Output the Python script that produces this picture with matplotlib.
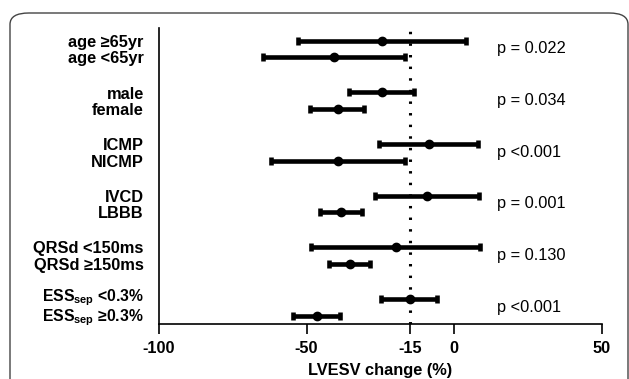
import matplotlib
matplotlib.use("Agg")
import matplotlib.pyplot as plt
from matplotlib.patches import FancyBboxPatch
from matplotlib.transforms import ScaledTranslation
import numpy as np

plt.rcParams['font.family'] = ['Liberation Sans', 'DejaVu Sans']
plt.rcParams['mathtext.fontset'] = 'custom'
plt.rcParams['mathtext.rm'] = 'Liberation Sans:bold'
plt.rcParams['mathtext.bf'] = 'Liberation Sans:bold'
plt.rcParams['mathtext.it'] = 'Liberation Sans:italic'

labels = ["age \u226565yr", "age <65yr", "male", "female", "ICMP", "NICMP",
          "IVCD", "LBBB", "QRSd <150ms", "QRSd \u2265150ms",
          r"ESS$_{\mathregular{sep}}$ <0.3%",
          "ESS$_{\\mathregular{sep}}$ \u22650.3%"]
means = [-24.3, -40.6, -24.5, -39.5, -8.4, -39.2, -9.3, -38.4, -19.8, -35.3, -15.1, -46.5]
lower = [-53.0, -64.6, -35.6, -48.8, -25.3, -62.1, -26.9, -45.4, -48.5, -42.5, -24.8, -54.7]
upper = [4.0, -16.8, -13.6, -30.5, 8.2, -16.8, 8.5, -31.2, 8.8, -28.5, -5.9, -38.6]
pvals = ["p = 0.022", "p = 0.034", "p <0.001", "p = 0.001", "p = 0.130", "p <0.001"]
xticks = [-100, -50, -15, 0, 50]
ref_line = -15

fig = plt.figure(figsize=(6.29, 3.79), dpi=100)
W, H = 629, 379

# rounded frame
frame = FancyBboxPatch((10 / W, -0.2), (618 / W), (1 - 13 / H) + 0.2,
                       boxstyle="round,pad=0,rounding_size=0.03",
                       transform=fig.transFigure, facecolor='none',
                       edgecolor='#444444', linewidth=1.0, clip_on=False)
fig.patches.append(frame)

ax = fig.add_axes([159 / W, 1 - 324.3 / H, (601.7 - 159) / W, (324.3 - 28.3) / H])

n_groups = len(pvals)
ypos = []
for g in range(n_groups):
    ypos += [g - 0.16, g + 0.16]
ypos = np.array(ypos)
means_a = np.array(means)
xerr = np.vstack([means_a - np.array(lower), np.array(upper) - means_a])

ax.axvline(ref_line, color='black', linestyle=(0, (0.8, 3.0)), linewidth=2.2, zorder=1)
ax.errorbar(means_a, ypos, xerr=xerr, fmt='o', color='black', ecolor='black',
            elinewidth=3.3, capsize=3, capthick=3.3, markersize=6, zorder=3)

for g, p in enumerate(pvals):
    ax.text(14.5, g, p, ha='left', va='center', fontsize=11.8)

# row labels
n = len(labels)
for i, (lab, y) in enumerate(zip(labels, ypos)):
    dy = -1.2 / 72
    fs = 11.8
    if i == n - 2:
        dy, fs = 1.2 / 72, 11.3
    elif i == n - 1:
        dy, fs = -1.8 / 72, 11.3
    tr = ax.get_yaxis_transform() + ScaledTranslation(-11 / 72, dy, fig.dpi_scale_trans)
    ax.text(0, y, lab, transform=tr, ha='right', va='center', fontsize=fs,
            fontweight='bold', clip_on=False)

ax.set_xlim(-100, 50)
ax.set_ylim(5.33, -0.40)
ax.set_yticks([])
ax.set_xticks(xticks)
ax.set_xticklabels([str(t) for t in xticks], fontsize=11.8, fontweight='bold')
ax.tick_params(axis='x', length=7, width=1.2, direction='out', pad=5)
ax.spines['right'].set_visible(False)
ax.spines['top'].set_visible(False)
ax.spines['left'].set_linewidth(1.2)
ax.spines['bottom'].set_linewidth(1.2)
ax.set_xlabel("LVESV change (%)", fontsize=11.8, fontweight='bold', labelpad=5)
ax.patch.set_alpha(0)

fig.savefig("out.png", dpi=100)
